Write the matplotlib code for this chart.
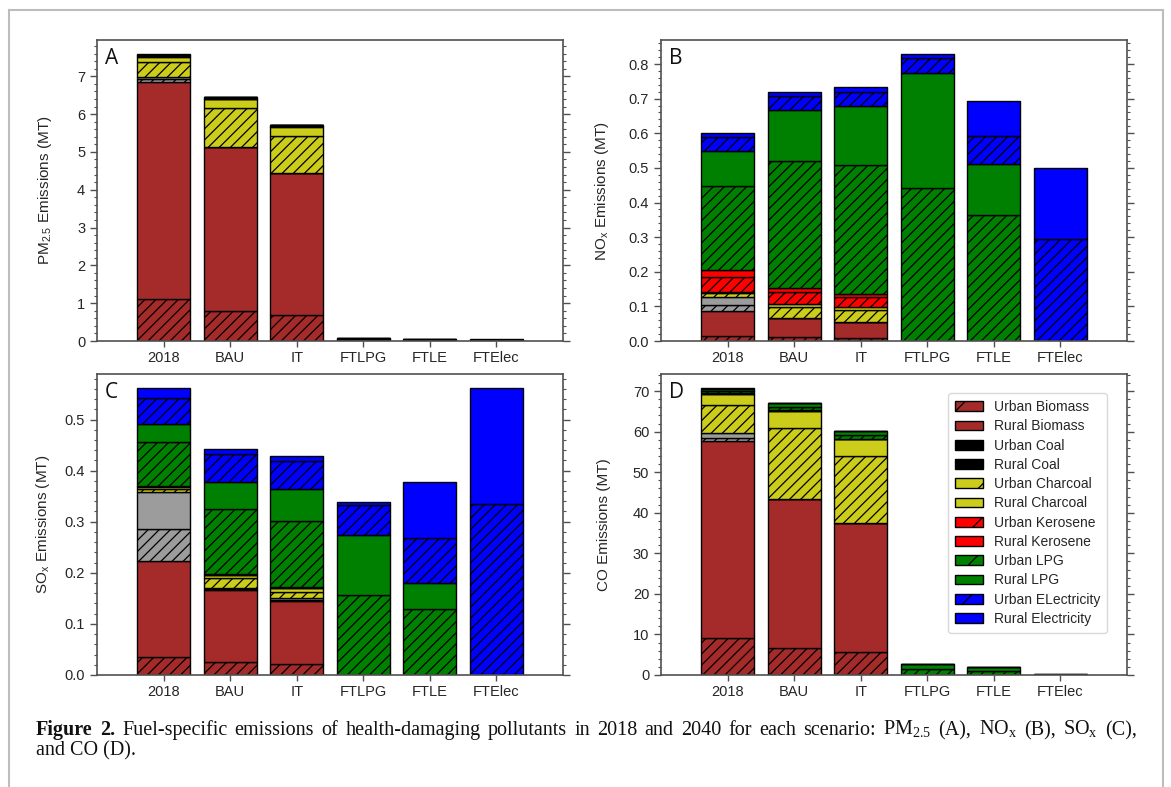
import matplotlib
matplotlib.use("Agg")
import matplotlib.pyplot as plt
from matplotlib.patches import Patch
from matplotlib.ticker import AutoMinorLocator
from matplotlib.lines import Line2D
import numpy as np

plt.rcParams["font.family"] = ["Liberation Sans", "DejaVu Sans"]
plt.rcParams["mathtext.fontset"] = "custom"
plt.rcParams["mathtext.rm"] = "Liberation Serif"
plt.rcParams["mathtext.bf"] = "Liberation Serif:bold"
plt.rcParams["mathtext.sf"] = "Liberation Sans"
plt.rcParams["hatch.linewidth"] = 0.9

# Scenarios on the x axis
scenarios = ["2018", "BAU", "IT", "FTLPG", "FTLE", "FTElec"]

# Stacked fuel series, bottom to top
series = ["Urban Biomass", "Rural Biomass", "Urban Coal", "Rural Coal",
          "Urban Charcoal", "Rural Charcoal", "Urban Kerosene", "Rural Kerosene",
          "Urban LPG", "Rural LPG", "Urban ELectricity", "Rural Electricity"]

# Emissions (MT): one row per series, one column per scenario
pm25 = [
    [1.10, 0.79, 0.69, 0.00, 0.00, 0.00],
    [5.76, 4.35, 3.75, 0.00, 0.00, 0.00],
    [0.06, 0.00, 0.00, 0.00, 0.00, 0.00],
    [0.05, 0.00, 0.00, 0.00, 0.00, 0.00],
    [0.40, 1.03, 0.99, 0.00, 0.00, 0.00],
    [0.14, 0.22, 0.23, 0.00, 0.00, 0.00],
    [0.02, 0.02, 0.02, 0.00, 0.00, 0.00],
    [0.02, 0.02, 0.02, 0.00, 0.00, 0.00],
    [0.01, 0.01, 0.01, 0.04, 0.03, 0.00],
    [0.01, 0.01, 0.01, 0.03, 0.02, 0.00],
    [0.005, 0.005, 0.00, 0.00, 0.005, 0.03],
    [0.005, 0.005, 0.00, 0.00, 0.005, 0.02],
]

nox = [
    [0.014, 0.012, 0.010, 0.000, 0.000, 0.000],
    [0.072, 0.053, 0.044, 0.000, 0.000, 0.000],
    [0.018, 0.000, 0.000, 0.000, 0.000, 0.000],
    [0.022, 0.000, 0.000, 0.000, 0.000, 0.000],
    [0.013, 0.034, 0.035, 0.000, 0.000, 0.000],
    [0.003, 0.008, 0.010, 0.000, 0.000, 0.000],
    [0.043, 0.035, 0.029, 0.000, 0.000, 0.000],
    [0.021, 0.012, 0.009, 0.000, 0.000, 0.000],
    [0.241, 0.365, 0.370, 0.442, 0.363, 0.000],
    [0.101, 0.147, 0.173, 0.332, 0.149, 0.000],
    [0.041, 0.043, 0.040, 0.043, 0.079, 0.296],
    [0.012, 0.010, 0.013, 0.011, 0.102, 0.204],
]

sox = [
    [0.036, 0.025, 0.022, 0.000, 0.000, 0.000],
    [0.188, 0.141, 0.122, 0.000, 0.000, 0.000],
    [0.062, 0.003, 0.003, 0.000, 0.000, 0.000],
    [0.072, 0.002, 0.003, 0.000, 0.000, 0.000],
    [0.006, 0.018, 0.013, 0.000, 0.000, 0.000],
    [0.003, 0.006, 0.007, 0.000, 0.000, 0.000],
    [0.002, 0.001, 0.001, 0.000, 0.000, 0.000],
    [0.001, 0.001, 0.001, 0.000, 0.000, 0.000],
    [0.085, 0.127, 0.130, 0.157, 0.129, 0.000],
    [0.036, 0.053, 0.062, 0.117, 0.052, 0.000],
    [0.052, 0.056, 0.055, 0.058, 0.087, 0.335],
    [0.018, 0.009, 0.010, 0.007, 0.109, 0.226],
]

co = [
    [9.2, 6.6, 5.7, 0.0, 0.0, 0.0],
    [48.5, 36.7, 31.8, 0.0, 0.0, 0.0],
    [0.8, 0.0, 0.0, 0.0, 0.0, 0.0],
    [1.2, 0.0, 0.0, 0.0, 0.0, 0.0],
    [7.0, 17.6, 16.6, 0.0, 0.0, 0.0],
    [2.5, 4.1, 4.0, 0.0, 0.0, 0.0],
    [0.2, 0.2, 0.1, 0.0, 0.0, 0.0],
    [0.1, 0.1, 0.1, 0.0, 0.0, 0.0],
    [0.6, 0.9, 1.0, 1.6, 1.1, 0.0],
    [0.5, 0.8, 0.9, 1.1, 0.8, 0.0],
    [0.05, 0.05, 0.05, 0.05, 0.05, 0.2],
    [0.05, 0.05, 0.05, 0.05, 0.05, 0.1],
]

# Fill colours per fuel (bars) and for the legend keys
fuel_colors = ["#a52a2a", "#a52a2a", "#9c9c9c", "#9c9c9c",
               "#cccc1a", "#cccc1a", "#ff0000", "#ff0000",
               "#008000", "#008000", "#0000ff", "#0000ff"]
legend_colors = ["#a52a2a", "#a52a2a", "#000000", "#000000",
                 "#cccc1a", "#cccc1a", "#ff0000", "#ff0000",
                 "#008000", "#008000", "#0000ff", "#0000ff"]
is_urban = [True, False] * 6

W, H = 1171, 787
fig = plt.figure(figsize=(W / 100, H / 100), dpi=100)

def rect(x0, y0, x1, y1):
    return [x0 / W, 1 - y1 / H, (x1 - x0) / W, (y1 - y0) / H]

panels = [
    ("A", pm25, r"PM$_{\mathsf{2.5}}$ Emissions (MT)", rect(97, 40, 563, 341),
     [0, 1, 2, 3, 4, 5, 6, 7], "{:.0f}", -0.092),
    ("B", nox, r"NO$_{\mathsf{x}}$ Emissions (MT)", rect(661, 40, 1127, 341),
     np.arange(0, 0.81, 0.1), "{:.1f}", -0.107),
    ("C", sox, r"SO$_{\mathsf{x}}$ Emissions (MT)", rect(97, 374, 563, 675),
     np.arange(0, 0.51, 0.1), "{:.1f}", -0.097),
    ("D", co, "CO Emissions (MT)", rect(661, 374, 1127, 675),
     np.arange(0, 71, 10), "{:.0f}", -0.107),
]

spine_col = "#505050"
text_col = "#262626"
x = np.arange(len(scenarios))

axes = {}
for letter, data, ylabel, pos, yticks, fmt, lab_x in panels:
    ax = fig.add_axes(pos)
    axes[letter] = ax
    vals = np.array(data, dtype=float)
    bottom = np.zeros(len(scenarios))
    for i in range(len(series)):
        ax.bar(x, vals[i], 0.8, bottom=bottom, color=fuel_colors[i],
               edgecolor="black", linewidth=1.0,
               hatch=("///" if is_urban[i] else None), zorder=2)
        bottom += vals[i]
    ax.set_xlim(-1, 6)
    ax.set_xticks(x)
    ax.set_xticklabels(scenarios)
    ax.set_yticks(yticks)
    ax.set_yticklabels([fmt.format(v) for v in yticks])
    ax.yaxis.set_minor_locator(AutoMinorLocator())
    ax.tick_params(axis="y", which="both", direction="out", left=True, right=True,
                   labelright=False, colors=spine_col, labelcolor=text_col, labelsize=10.5)
    ax.tick_params(axis="y", which="major", length=5, width=1.0)
    ax.tick_params(axis="y", which="minor", length=2.5, width=0.8)
    ax.tick_params(axis="x", which="major", direction="out", length=4, width=1.0,
                   colors=spine_col, labelcolor=text_col, labelsize=10.5)
    for s in ax.spines.values():
        s.set_color(spine_col)
        s.set_linewidth(1.2)
    ax.set_ylabel(ylabel, fontsize=11, color=text_col)
    ax.yaxis.set_label_coords(lab_x, 0.5)
    ax.text(0.017, 0.975, letter, transform=ax.transAxes, ha="left", va="top",
            fontsize=15, family=["Open Sans", "DejaVu Sans"], color="#111111")

handles = [Patch(facecolor=legend_colors[i], edgecolor="black", linewidth=1.0,
                 hatch=("/" if is_urban[i] else None), label=series[i])
           for i in range(len(series))]
leg = axes["D"].legend(handles=handles, loc="upper right",
                       bbox_to_anchor=((1107 - 661) / 466, 1 - (393 - 374) / 301),
                       borderaxespad=0, fontsize=10, frameon=True,
                       labelspacing=0.38, handletextpad=0.8, borderpad=0.5)
leg.get_frame().set_edgecolor("#d0d0d0")
for t in leg.get_texts():
    t.set_color(text_col)

# Caption below the panels, first line set justified between the margins
cap_font = ["Liberation Serif", "DejaVu Serif"]
cap_size = 14.5
cap_left, cap_right = 36, 1137
line1_words = [("Figure", "bold"), ("2.", "bold")] + [
    (w, "normal") for w in
    ["Fuel-specific", "emissions", "of", "health-damaging", "pollutants", "in",
     "2018", "and", "2040", "for", "each", "scenario:", r"PM$_{\mathrm{2.5}}$", "(A),",
     r"NO$_{\mathrm{x}}$", "(B),", r"SO$_{\mathrm{x}}$", "(C),"]]
renderer = fig.canvas.get_renderer()
y1 = 1 - 735 / H
word_texts = [fig.text(0, y1, w, fontsize=cap_size, family=cap_font, fontweight=wt,
                       color="#111111", ha="left", va="baseline")
              for w, wt in line1_words]
widths = [t.get_window_extent(renderer).width for t in word_texts]
gap = ((cap_right - cap_left) - sum(widths)) / (len(widths) - 1)
xpos = cap_left
for t, w in zip(word_texts, widths):
    t.set_x(xpos / W)
    xpos += w + gap
fig.text(cap_left / W, 1 - 755 / H, "and CO (D).", fontsize=cap_size, family=cap_font,
         color="#111111", ha="left", va="baseline")

# Light page frame around the figure
frame_col = "#bdbdbd"
for xs, ys in [([9, 9], [787, 10]), ([1163, 1163], [787, 10]), ([9, 1163], [10, 10])]:
    fig.add_artist(Line2D([v / W for v in xs], [1 - v / H for v in ys],
                          transform=fig.transFigure, color=frame_col, lw=1.5))

fig.savefig("out.png", dpi=100)
